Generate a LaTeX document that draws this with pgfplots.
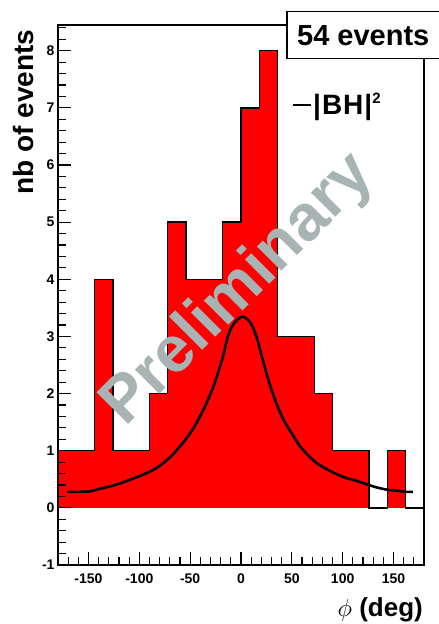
\documentclass[border=0pt]{standalone}
\usepackage{fontspec}
\setmainfont{Liberation Sans}
\usepackage{pgfplots}
\pgfplotsset{compat=1.18}
\definecolor{wmgray}{RGB}{168,180,180}
\begin{document}
\begin{tikzpicture}[x=1pt,y=1pt]
\path[use as bounding box] (0,0) rectangle (439,624);
\begin{axis}[at={(58pt,59pt)}, anchor=south west, scale only axis,
  width=366pt, height=540pt,
  xmin=-180, xmax=180, ymin=-1, ymax=8.45,
  axis line style={line width=1.2pt},
  xtick={-150,-100,...,150}, xticklabels={-150,-100,-50,0,50,100,150},
  ytick={-1,0,...,8}, yticklabels={-1,0,1,2,3,4,5,6,7,8},
  minor xtick={-170,-160,...,170},
  minor ytick={-1,-0.8,...,8.4},
  xtick pos=bottom, ytick pos=left, tick align=inside,
  major tick length=13pt, minor tick length=8pt,
  every tick/.style={black, line width=1.1pt},
  tick label style={font=\bfseries\fontsize{14}{14}\selectfont},
  xticklabel style={yshift=-5pt},
  axis on top,
]
% histogram fill
\addplot[fill=red, draw=none, const plot] coordinates {
(-180,1) (-162,1) (-144,4) (-126,1) (-108,1) (-90,2) (-72,5) (-54,4) (-36,4) (-18,5)
(0,7) (18,8) (36,3) (54,3) (72,2) (90,1) (108,1) (126,0) (144,1) (162,0) (180,0)
} \closedcycle;
% histogram outline
\addplot[black, line width=1.3pt, const plot] coordinates {
(-180,1) (-162,1) (-144,4) (-126,1) (-108,1) (-90,2) (-72,5) (-54,4) (-36,4) (-18,5)
(0,7) (18,8) (36,3) (54,3) (72,2) (90,1) (108,1) (126,0) (144,1) (162,0) (180,0)
};
\node[rotate=45, text=wmgray, font=\bfseries\fontsize{65}{65}\selectfont, inner sep=0]
  at (axis cs:-2,3.8) {Preliminary};
% |BH|^2 curve
\addplot[black, line width=2.6pt, smooth] coordinates {
(-171,0.28) (-160,0.28) (-148,0.29) (-140,0.33) (-130,0.37) (-117,0.44) (-105,0.52)
(-95,0.59) (-83,0.70) (-70,0.88) (-57,1.14) (-48,1.36) (-40,1.61) (-33,1.87) (-27,2.13)
(-21,2.45) (-17,2.70) (-12,3.05) (-6,3.25) (0,3.34) (4,3.33) (8,3.27) (12,3.15) (16,2.95)
(20,2.68) (24,2.42) (28.5,2.15) (35,1.82) (41.6,1.55) (50,1.30) (58,1.08) (66,0.92)
(74,0.79) (84,0.68) (94,0.59) (104,0.52) (114,0.47) (124,0.41) (133,0.36) (143,0.32)
(153,0.30) (162,0.28) (169,0.28)
};
\end{axis}
% events box
\draw[fill=white, line width=1.2pt] (287,565.7) rectangle (452,612.3);
\node[anchor=base west, inner sep=0, font=\bfseries\fontsize{29}{29}\selectfont] at (297,578) {54 events};
% legend
\draw[line width=2.6pt] (293,519) -- (311,519);
\node[anchor=base west, inner sep=0, font=\bfseries\fontsize{28}{28}\selectfont] at (313,509)
  {|\kern1pt B\kern1pt H\kern1pt|\raisebox{11pt}{\fontsize{15}{15}\selectfont 2}};
% axis titles
\node[rotate=90, anchor=base, inner sep=0, font=\bfseries\fontsize{28}{28}\selectfont] at (33,512) {nb of events};
\node[anchor=base east, inner sep=0, font=\bfseries\fontsize{26}{26}\selectfont] at (423,7) {$\phi$ (deg)};
\end{tikzpicture}
\end{document}
